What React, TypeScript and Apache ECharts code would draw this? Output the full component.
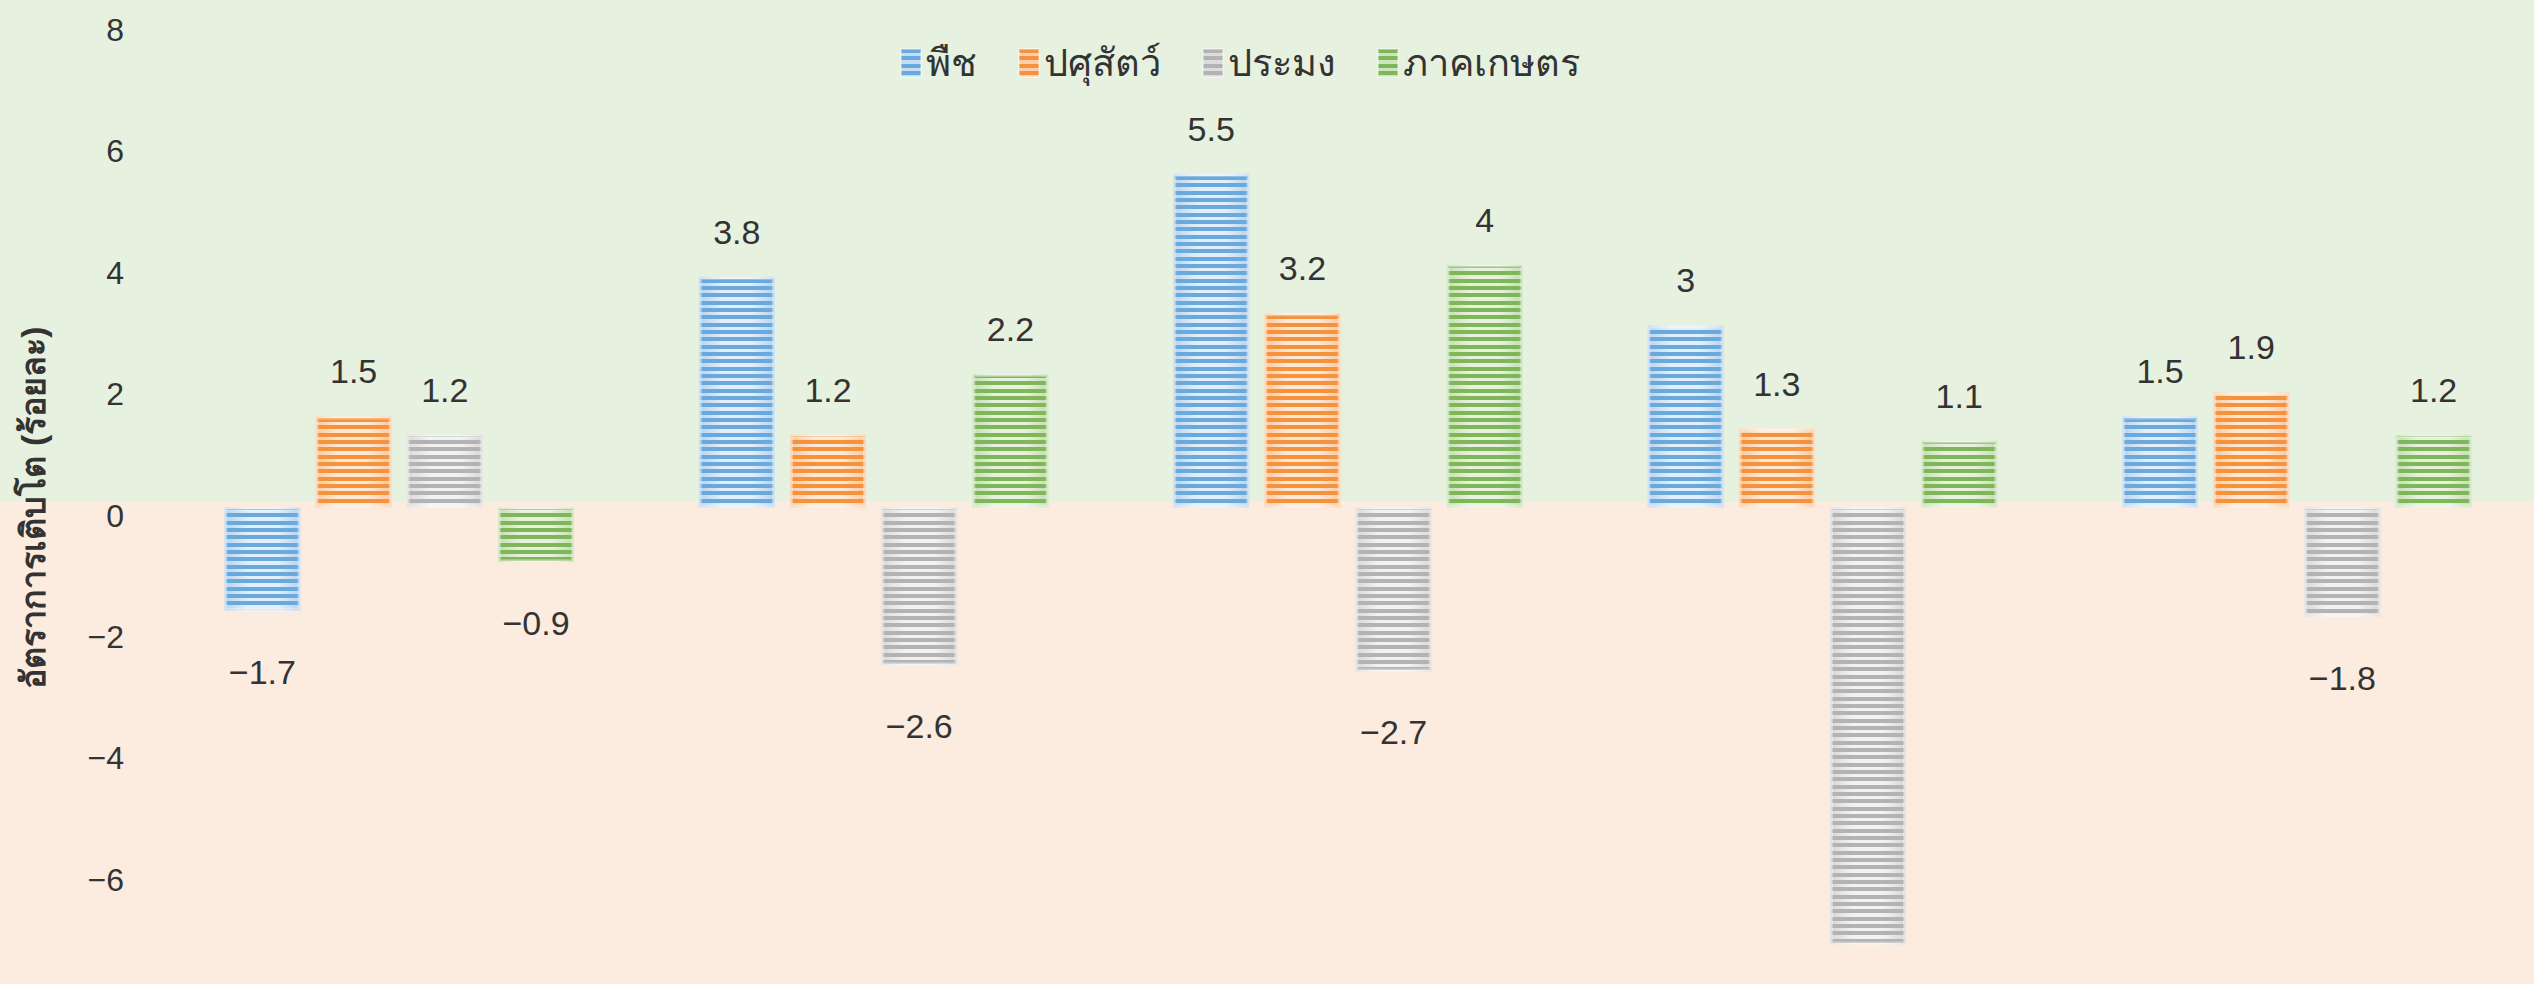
import React, { useEffect, useRef } from 'react';
import * as echarts from 'echarts';

// ---- data ----
const categories = ['1', '2', '3', '4', '5'];
const seriesNames = ['พืช', 'ปศุสัตว์', 'ประมง', 'ภาคเกษตร'];
const cropValues = [-1.7, 3.8, 5.5, 3, 1.5];
const livestockValues = [1.5, 1.2, 3.2, 1.3, 1.9];
const fisheryValues = [1.2, -2.6, -2.7, -7.2, -1.8];
const agricultureValues = [-0.9, 2.2, 4, 1.1, 1.2];
const yMin = -8;
const yMax = 8;
const yInterval = 2;
const yAxisTitle = 'อัตราการเติบโต (ร้อยละ)';

// ---- styles ----
const palette = [
  { dark: '#6aa9dc', light: '#e2eef9', edge: '#b7d3ee', legendGap: '#c6ddf2' },
  { dark: '#f5923e', light: '#fee8d6', edge: '#fbc89e', legendGap: '#fbcfae' },
  { dark: '#b3b3b3', light: '#f2f2f2', edge: '#d8d8d8', legendGap: '#dcdcdc' },
  { dark: '#80b65a', light: '#e6f1de', edge: '#c3dfb0', legendGap: '#cde4bd' },
];
const FONT = "'Liberation Sans', Arial, 'Noto Sans', sans-serif";
const TEXT = '#333333';

function stripeUrl(dark: string, gap?: string) {
  const rows = [
    [0, 4],
    [7, 4],
    [15, 4],
  ];
  const bg = gap ? `<rect width="4" height="22" fill="${gap}"/>` : '';
  const svg =
    `<svg xmlns="http://www.w3.org/2000/svg" width="4" height="22">` +
    bg +
    rows.map(([y, h]) => `<rect y="${y}" width="4" height="${h}" fill="${dark}"/>`).join('') +
    `</svg>`;
  return 'data:image/svg+xml;charset=utf-8,' + encodeURIComponent(svg);
}

function pattern(dark: string, gap?: string) {
  return { image: stripeUrl(dark, gap), repeat: 'repeat', imageWidth: 4, imageHeight: 22 } as any;
}

const minus = (v: number | string) => String(v).replace('-', '\u2212');

export default function App() {
  const ref = useRef<HTMLDivElement>(null);
  useEffect(() => {
    document.body.style.margin = '0';
    document.body.style.overflow = 'hidden';
    const chart = echarts.init(ref.current!, null, { renderer: 'svg' });
    const valueLists = [cropValues, livestockValues, fisheryValues, agricultureValues];

    const under = valueLists.map((vals, i) => ({
      type: 'bar',
      name: seriesNames[i] + '_bg',
      xAxisIndex: 1,
      data: vals,
      barWidth: 76,
      barGap: '20%',
      silent: true,
      z: 2,
      itemStyle: {
        color: new echarts.graphic.LinearGradient(0, 0, 1, 0, [
          { offset: 0, color: palette[i].edge },
          { offset: 0.3, color: palette[i].light },
          { offset: 0.7, color: palette[i].light },
          { offset: 1, color: palette[i].edge },
        ]),
      },
    }));

    const over = valueLists.map((vals, i) => ({
      type: 'bar',
      name: seriesNames[i],
      xAxisIndex: 0,
      data: vals.map((v) => ({ value: v, label: { distance: v < 0 ? 44 : 28 } })),
      barWidth: 76,
      barGap: '20%',
      z: 3,
      itemStyle: {
        color: pattern(palette[i].dark),
        borderColor: 'rgba(255,255,255,0.35)',
        borderWidth: 3,
      },
      label: {
        show: true,
        position: 'outside',
        fontSize: 34,
        fontFamily: FONT,
        color: TEXT,
        formatter: (p: any) => minus(p.value),
      },
    }));

    chart.setOption({
      animation: false,
      backgroundColor: new echarts.graphic.LinearGradient(0, 0, 0, 1, [
        { offset: 0, color: '#e6f1df' },
        { offset: 0.51, color: '#e6f1df' },
        { offset: 0.51, color: '#fcebdf' },
        { offset: 1, color: '#fcebdf' },
      ]),
      textStyle: { fontFamily: FONT },
      legend: {
        left: 900,
        top: 44,
        padding: 0,
        itemWidth: 20,
        itemHeight: 28,
        itemGap: 41,
        icon: 'rect',
        textStyle: { fontSize: 38, color: TEXT, fontFamily: FONT, padding: [8, 0, 0, 0] },
        data: seriesNames.map((n, i) => ({
          name: n,
          itemStyle: { color: pattern(palette[i].dark, palette[i].legendGap) },
        })),
      },
      grid: {
        left: 162,
        right: 0,
        top: 21.9,
        height: 971.2,
        containLabel: false,
        outerBoundsMode: 'none',
      },
      xAxis: [
        {
          type: 'category',
          data: categories,
          z: 10,
          axisLine: {
            onZero: true,
            lineStyle: {
              color: '#cbcbcb',
              width: 3.5,
              shadowColor: 'rgba(190,188,185,0.55)',
              shadowOffsetY: -3.5,
              shadowBlur: 0,
            },
          },
          axisTick: { show: false },
          axisLabel: { show: false },
          splitLine: { show: false },
        },
        { type: 'category', data: categories, show: false },
      ],
      yAxis: {
        type: 'value',
        min: yMin,
        max: yMax,
        interval: yInterval,
        name: yAxisTitle,
        nameLocation: 'middle',
        nameGap: 112,
        nameRotate: 90,
        nameTextStyle: { fontSize: 34, fontWeight: 'bold', color: TEXT, fontFamily: FONT },
        axisLine: { show: false },
        axisTick: { show: false },
        splitLine: { show: false },
        axisLabel: {
          fontSize: 32,
          color: TEXT,
          margin: 38,
          verticalAlign: 'top',
          lineHeight: 16,
          fontFamily: FONT,
          formatter: (v: number) => minus(v),
        },
      },
      series: [...under, ...over],
    });
    return () => chart.dispose();
  }, []);
  return <div ref={ref} style={{ width: 2534, height: 984 }} />;
}
